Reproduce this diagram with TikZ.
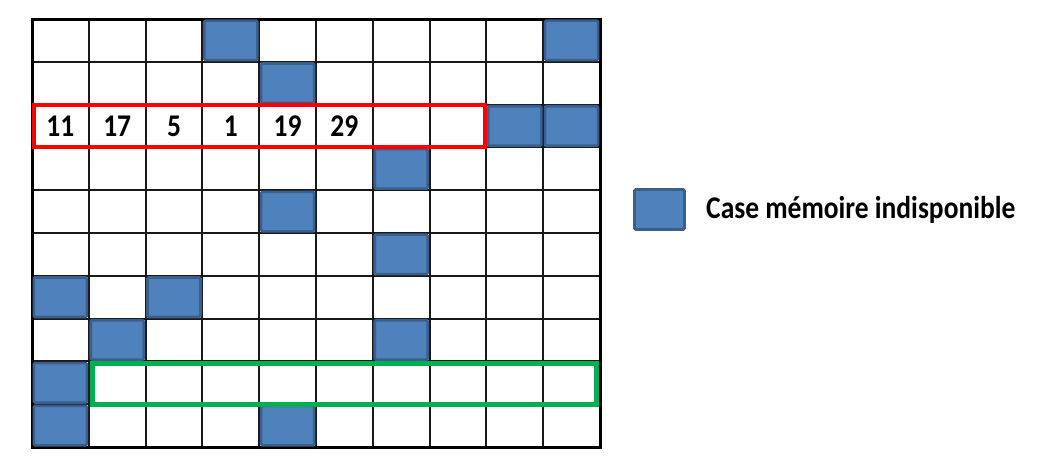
\documentclass[tikz,border=0pt]{standalone}
\usepackage{fontspec}
\setmainfont{Carlito}
\definecolor{cellblue}{HTML}{4F81BD}
\definecolor{cellborder}{HTML}{3A5F8C}
\definecolor{boxred}{HTML}{FF0000}
\definecolor{boxgreen}{HTML}{00B050}
\tikzset{
  used/.style={draw=cellborder, fill=cellblue, line width=2.6pt, rounded corners=1.2pt,
               minimum width=53pt, minimum height=39.5pt, inner sep=0pt},
  num/.style={font=\fontsize{27.5}{27.5}\selectfont\bfseries, yscale=1.15, transform shape, inner sep=0pt},
  legendtext/.style={font=\fontsize{27.5}{27.5}\selectfont\bfseries, yscale=1.15, transform shape, inner sep=0pt, anchor=west},
  gridline/.style={line width=2pt, draw=black!90},
  frame/.style={line width=3pt, draw=black},
  redbox/.style={draw=boxred, line width=4.5pt},
  greenbox/.style={draw=boxgreen, line width=5pt}
}
\begin{document}
\begin{tikzpicture}[x=1pt, y=-1pt]
\useasboundingbox (0,0) rectangle (1055,472);
\fill[white] (0,0) rectangle (1055,472);
\def\cw{56.8}
\def\rh{42.8}
\def\gx{32}
\def\gy{19}
% grid lines
\foreach \i in {1,...,9} {
  \draw[gridline] ({\gx+\i*\cw},\gy) -- ({\gx+\i*\cw},{\gy+10*\rh});
  \draw[gridline] (\gx,{\gy+\i*\rh}) -- ({\gx+10*\cw},{\gy+\i*\rh});
}
\draw[frame] (\gx,\gy) rectangle ({\gx+10*\cw},{\gy+10*\rh});
% unavailable cells (col,row)
\foreach \c/\r [count=\k] in {3/0,9/0,4/1,8/2,9/2,6/3,4/4,6/5,0/6,2/6,1/7,6/7,0/8,0/9,4/9} {
  \node[used] (u\k) at ({\gx+(\c+0.5)*\cw},{\gy+(\r+0.5)*\rh}) {};
}
% numbers
\foreach \v [count=\k from 0] in {11,17,5,1,19,29} {
  \node[num] (n\k) at ({\gx+(\k+0.5)*\cw},{\gy+2.5*\rh}) {\v};
}
% highlight boxes
\draw[redbox] (34,105) rectangle (485,147);
\draw[greenbox] (92,363) rectangle (596,404);
% legend
\node[used, minimum width=50pt, minimum height=40pt] (legsq) at (659.5,209.5) {};
\node[legendtext] (legtxt) at (706,210) {Case mémoire indisponible};
\end{tikzpicture}
\end{document}
